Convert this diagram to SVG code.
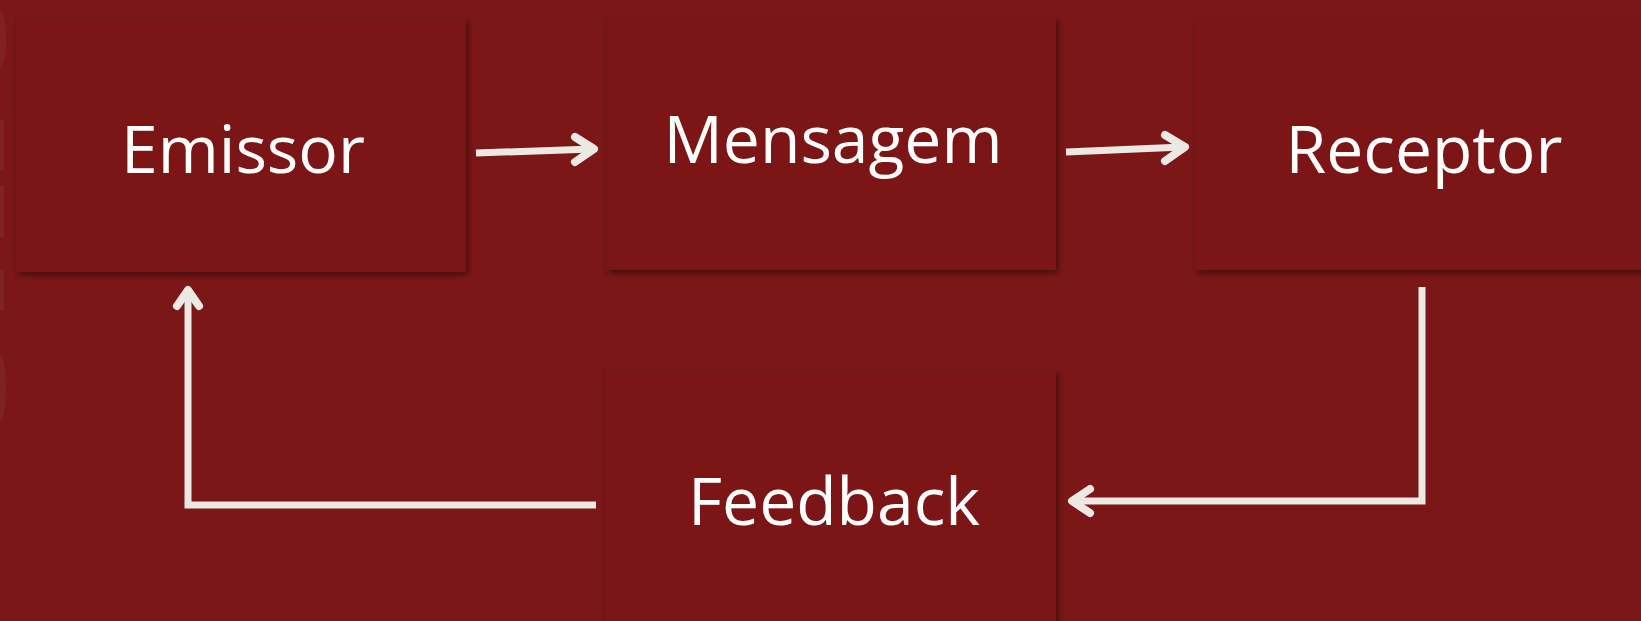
<svg xmlns="http://www.w3.org/2000/svg" width="1641" height="621" viewBox="0 0 1641 621">
  <style>
    .box { fill: #7b1717; filter: url(#sh); }
    .lbl { font-family: "Open Sans", "Liberation Sans", sans-serif; font-size: 66px; fill: #ffffff; text-anchor: middle; }
    .ln { fill: none; stroke: #ece9e4; stroke-width: 7; stroke-linecap: butt; stroke-linejoin: miter; }
    .hd { fill: none; stroke: #ece9e4; stroke-width: 8; stroke-linecap: round; stroke-linejoin: round; }
    .deco { fill: #ffffff; fill-opacity: 0.05; }
  </style>
  <defs>
    <filter id="sh" x="-10%" y="-10%" width="125%" height="130%">
      <feDropShadow dx="2" dy="3" stdDeviation="3" flood-color="#000000" flood-opacity="0.45"/>
    </filter>
  </defs>
  <rect x="0" y="0" width="1641" height="621" fill="#7b1717"/>
  <g id="decoration">
    <ellipse cx="0" cy="39" rx="6" ry="29" class="deco"/>
    <rect x="0" y="120" width="4" height="50" class="deco"/>
    <rect x="0" y="185" width="4" height="52" class="deco"/>
    <rect x="0" y="270" width="4" height="41" class="deco"/>
    <ellipse cx="0" cy="388" rx="6" ry="33" class="deco"/>
  </g>
  <g id="node-emissor">
    <rect class="box" x="16" y="18" width="450" height="254"/>
    <text class="lbl" x="243" y="173">Emissor</text>
  </g>
  <g id="node-mensagem">
    <rect class="box" x="606" y="17" width="450" height="253"/>
    <text class="lbl" x="833" y="163">Mensagem</text>
  </g>
  <g id="node-receptor">
    <rect class="box" x="1195" y="17" width="460" height="253"/>
    <text class="lbl" x="1424" y="173">Receptor</text>
  </g>
  <g id="node-feedback">
    <rect class="box" x="605" y="370" width="451" height="260"/>
    <text class="lbl" x="834" y="525">Feedback</text>
  </g>
  <g id="connectors">
    <path class="ln" d="M476 153 L592 149"/>
    <path class="hd" d="M575 137 L594 149 L575 162"/>
    <path class="ln" d="M1066 152 L1183 147"/>
    <path class="hd" d="M1165 135 L1185 147 L1165 161"/>
    <path class="ln" d="M1422 287 L1422 501 L1074 501"/>
    <path class="hd" d="M1090 489 L1072 501 L1090 513"/>
    <path class="ln" d="M596 505 L188 505 L188 291"/>
    <path class="hd" d="M177 306 L188 290 L199 306"/>
  </g>
</svg>
